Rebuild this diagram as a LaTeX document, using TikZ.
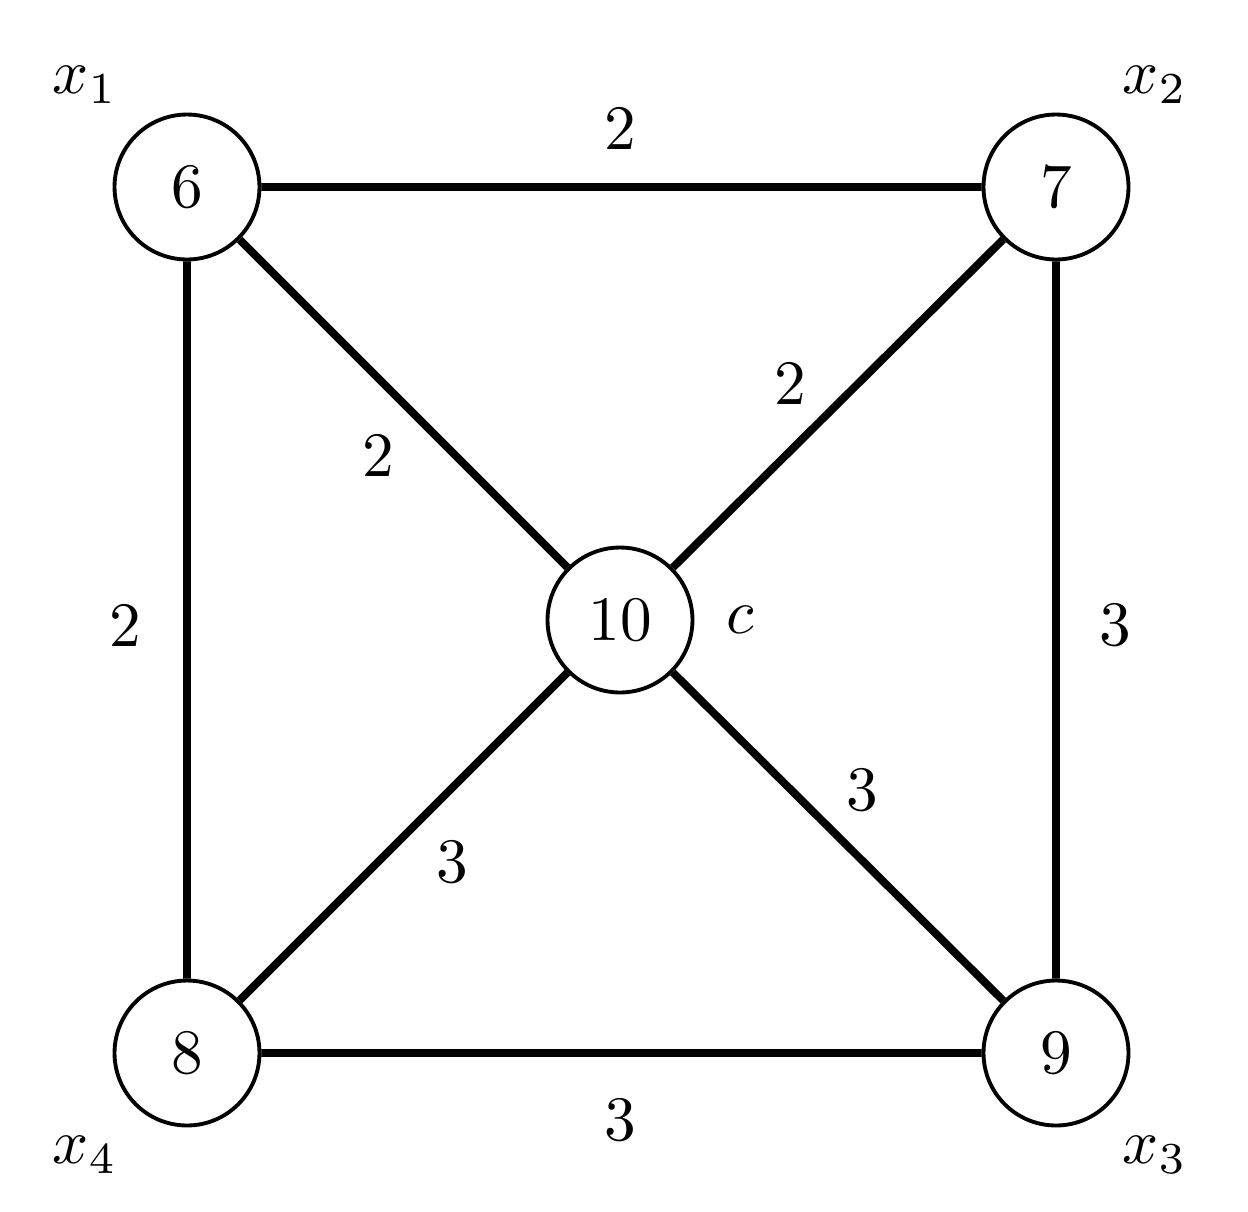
\documentclass[tikz,border=0pt]{standalone}
\newcommand{\bigt}[1]{\scalebox{3.6}{#1}}
\begin{document}
\begin{tikzpicture}[x=0.02cm,y=-0.02cm,
  vert/.style={circle,draw,line width=2.2pt,minimum size=2.9cm,inner sep=0pt},
  lbl/.style={inner sep=0pt},
  edge/.style={line width=4.5pt}]
\useasboundingbox (0,0) rectangle (1248,1211);
\node[vert] (a) at (187,187) {\bigt{$6$}};
\node[vert] (b) at (1056,187) {\bigt{$7$}};
\node[vert] (d) at (187,1053) {\bigt{$8$}};
\node[vert] (e) at (1056,1053) {\bigt{$9$}};
\node[vert] (c) at (620,620) {\bigt{$10$}};
\draw[edge] (a)--(b) (b)--(e) (e)--(d) (d)--(a) (a)--(c) (b)--(c) (d)--(c) (e)--(c);
\node[lbl] (l1) at (85,85) {\bigt{$x_1$}};
\node[lbl] (l2) at (1155,85) {\bigt{$x_2$}};
\node[lbl] (l4) at (85,1155) {\bigt{$x_4$}};
\node[lbl] (l3) at (1155,1155) {\bigt{$x_3$}};
\node[lbl] (lc) at (740,620) {\bigt{$c$}};
\node[lbl] (w1) at (620,128) {\bigt{2}};
\node[lbl] (w2) at (125,625) {\bigt{2}};
\node[lbl] (w3) at (1115,625) {\bigt{3}};
\node[lbl] (w4) at (620,1120) {\bigt{3}};
\node[lbl] (w5) at (378,455) {\bigt{2}};
\node[lbl] (w6) at (790,383) {\bigt{2}};
\node[lbl] (w7) at (452,862) {\bigt{3}};
\node[lbl] (w8) at (862,790) {\bigt{3}};
\end{tikzpicture}
\end{document}
